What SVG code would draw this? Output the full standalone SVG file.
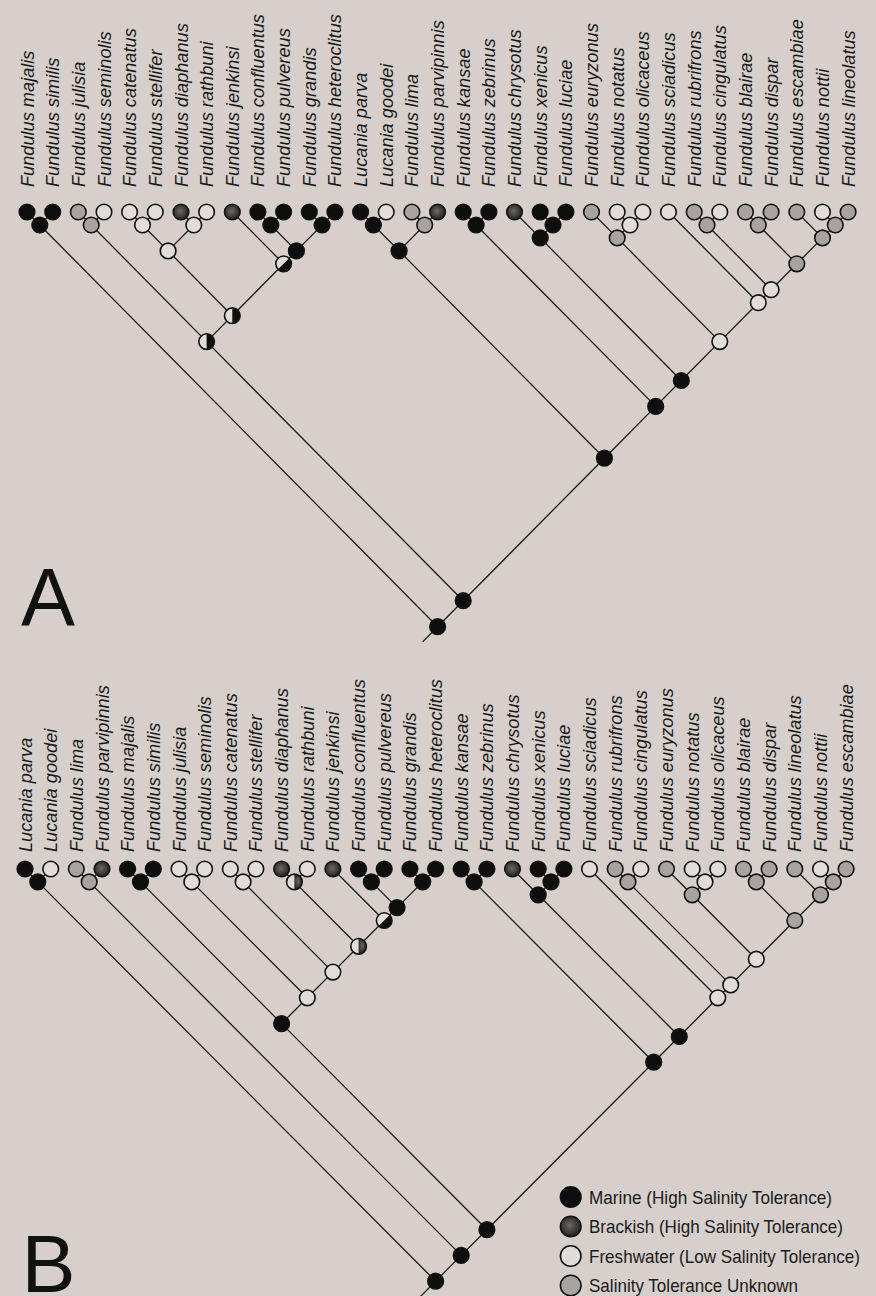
<svg xmlns="http://www.w3.org/2000/svg" width="876" height="1296" viewBox="0 0 876 1296">
<defs>
<radialGradient id="brk" cx="0.45" cy="0.45" r="0.6">
<stop offset="0" stop-color="#6a6866"/>
<stop offset="1" stop-color="#1c1c1c"/>
</radialGradient>
<style>
.ln{stroke:#1a1a1a;stroke-width:1.3;fill:none}
.nd{stroke:#121212;stroke-width:1.6}
.m{fill:#0e0e0e}
.b{fill:url(#brk)}
.f{fill:#e2ddda}
.u{fill:#a8a3a0}
.o{fill:none;stroke:#121212;stroke-width:1.6}
.lab{font-family:"Liberation Sans",Arial,sans-serif;font-style:italic;font-size:18.2px;fill:#1a1a1a}
.big{font-family:"Liberation Sans",Arial,sans-serif;font-size:81px;fill:#111}
.leg{font-family:"Liberation Sans",Arial,sans-serif;font-size:19px;fill:#1a1a1a}
</style>
</defs>
<rect x="0" y="0" width="876" height="1296" fill="#d6cfcb"/>

<g id="connectors">
<!-- Tree A -->
<path class="ln" d="M27,212L39.8,225M52.7,212L39.8,225M78.3,212L91.2,225M104,212L91.2,225M129.6,212L142.5,225M155.3,212L142.5,225M181,212L193.8,225M206.6,212L193.8,225M142.5,225L168.1,250.9M193.8,225L168.1,250.9M257.9,212L270.8,225M283.6,212L270.8,225M309.3,212L322.1,225M334.9,212L322.1,225M270.8,225L296.4,250.9M322.1,225L296.4,250.9M232.3,212L283.6,263.8M296.4,250.9L283.6,263.8M168.1,250.9L232.3,315.7M283.6,263.8L232.3,315.7M91.2,225L206.6,341.6M232.3,315.7L206.6,341.6"/>
<path class="ln" d="M360.6,212L373.4,225M386.2,212L373.4,225M411.9,212L424.7,225M437.6,212L424.7,225M373.4,225L399.1,250.9M424.7,225L399.1,250.9M463.2,212L476.1,225M488.9,212L476.1,225M540.2,212L553,225M565.9,212L553,225M514.5,212L540.2,237.9M553,225L540.2,237.9M617.2,212L630,225M642.8,212L630,225M591.5,212L617.2,237.9M630,225L617.2,237.9M694.2,212L707,225M719.8,212L707,225M745.5,212L758.3,225M771.1,212L758.3,225M822.5,212L835.3,225M848.1,212L835.3,225M796.8,212L822.5,237.9M835.3,225L822.5,237.9M758.3,225L796.8,263.8M822.5,237.9L796.8,263.8M707,225L771.1,289.7M796.8,263.8L771.1,289.7M668.5,212L758.3,302.7M771.1,289.7L758.3,302.7M617.2,237.9L719.8,341.6M758.3,302.7L719.8,341.6M540.2,237.9L681.3,380.5M719.8,341.6L681.3,380.5M476.1,225L655.7,406.4M681.3,380.5L655.7,406.4M399.1,250.9L604.4,458.2M655.7,406.4L604.4,458.2M206.6,341.6L463.2,600.7M604.4,458.2L463.2,600.7M39.8,225L437.6,626.7M463.2,600.7L437.6,626.7M437.6,626.7L422.6,641.9"/>
<!-- Tree B -->
<path class="ln" d="M25,869L37.8,881.9M50.7,869L37.8,881.9M76.3,869L89.2,881.9M102,869L89.2,881.9M127.6,869L140.5,881.9M153.3,869L140.5,881.9M179,869L191.8,881.9M204.6,869L191.8,881.9M230.3,869L243.1,881.9M255.9,869L243.1,881.9M281.6,869L294.4,881.9M307.3,869L294.4,881.9M358.6,869L371.4,881.9M384.2,869L371.4,881.9M409.9,869L422.7,881.9M435.6,869L422.7,881.9M371.4,881.9L397.1,907.6M422.7,881.9L397.1,907.6M332.9,869L384.2,920.5M397.1,907.6L384.2,920.5M294.4,881.9L358.6,946.3M384.2,920.5L358.6,946.3M243.1,881.9L332.9,972.1M358.6,946.3L332.9,972.1M191.8,881.9L307.3,997.8M332.9,972.1L307.3,997.8M140.5,881.9L281.6,1023.6M307.3,997.8L281.6,1023.6"/>
<path class="ln" d="M461.2,869L474.1,881.9M486.9,869L474.1,881.9M538.2,869L551,881.9M563.9,869L551,881.9M512.5,869L538.2,894.8M551,881.9L538.2,894.8M615.2,869L628,881.9M640.8,869L628,881.9M692.2,869L705,881.9M717.8,869L705,881.9M666.5,869L692.2,894.8M705,881.9L692.2,894.8M743.5,869L756.3,881.9M769.1,869L756.3,881.9M820.5,869L833.3,881.9M846.1,869L833.3,881.9M794.8,869L820.5,894.8M833.3,881.9L820.5,894.8M756.3,881.9L794.8,920.5M820.5,894.8L794.8,920.5M692.2,894.8L756.3,959.2M794.8,920.5L756.3,959.2M628,881.9L730.7,984.9M756.3,959.2L730.7,984.9M589.5,869L717.8,997.8M730.7,984.9L717.8,997.8M538.2,894.8L679.3,1036.5M717.8,997.8L679.3,1036.5M474.1,881.9L653.7,1062.2M679.3,1036.5L653.7,1062.2M281.6,1023.6L486.9,1229.7M653.7,1062.2L486.9,1229.7M89.2,881.9L461.2,1255.4M486.9,1229.7L461.2,1255.4M37.8,881.9L435.6,1281.2M461.2,1255.4L435.6,1281.2M435.6,1281.2L417.6,1299.5"/>
</g>

<!-- Tree A tips -->
<g id="A-majalis"><circle class="nd m" cx="27" cy="212" r="7.8"/><text class="lab" transform="translate(33.5,187) rotate(-90)">Fundulus majalis</text></g>
<g id="A-similis"><circle class="nd m" cx="52.7" cy="212" r="7.8"/><text class="lab" transform="translate(59.2,187) rotate(-90)">Fundulus similis</text></g>
<g id="A-julisia"><circle class="nd u" cx="78.3" cy="212" r="7.8"/><text class="lab" transform="translate(84.8,187) rotate(-90)">Fundulus julisia</text></g>
<g id="A-seminolis"><circle class="nd f" cx="104" cy="212" r="7.8"/><text class="lab" transform="translate(110.5,187) rotate(-90)">Fundulus seminolis</text></g>
<g id="A-catenatus"><circle class="nd f" cx="129.6" cy="212" r="7.8"/><text class="lab" transform="translate(136.1,187) rotate(-90)">Fundulus catenatus</text></g>
<g id="A-stellifer"><circle class="nd f" cx="155.3" cy="212" r="7.8"/><text class="lab" transform="translate(161.8,187) rotate(-90)">Fundulus stellifer</text></g>
<g id="A-diaphanus"><circle class="nd b" cx="181" cy="212" r="7.8"/><text class="lab" transform="translate(187.5,187) rotate(-90)">Fundulus diaphanus</text></g>
<g id="A-rathbuni"><circle class="nd f" cx="206.6" cy="212" r="7.8"/><text class="lab" transform="translate(213.1,187) rotate(-90)">Fundulus rathbuni</text></g>
<g id="A-jenkinsi"><circle class="nd b" cx="232.3" cy="212" r="7.8"/><text class="lab" transform="translate(238.8,187) rotate(-90)">Fundulus jenkinsi</text></g>
<g id="A-confluentus"><circle class="nd m" cx="257.9" cy="212" r="7.8"/><text class="lab" transform="translate(264.4,187) rotate(-90)">Fundulus confluentus</text></g>
<g id="A-pulvereus"><circle class="nd m" cx="283.6" cy="212" r="7.8"/><text class="lab" transform="translate(290.1,187) rotate(-90)">Fundulus pulvereus</text></g>
<g id="A-grandis"><circle class="nd m" cx="309.3" cy="212" r="7.8"/><text class="lab" transform="translate(315.8,187) rotate(-90)">Fundulus grandis</text></g>
<g id="A-heteroclitus"><circle class="nd m" cx="334.9" cy="212" r="7.8"/><text class="lab" transform="translate(341.4,187) rotate(-90)">Fundulus heteroclitus</text></g>
<g id="A-parva"><circle class="nd m" cx="360.6" cy="212" r="7.8"/><text class="lab" transform="translate(367.1,187) rotate(-90)">Lucania parva</text></g>
<g id="A-goodei"><circle class="nd f" cx="386.2" cy="212" r="7.8"/><text class="lab" transform="translate(392.7,187) rotate(-90)">Lucania goodei</text></g>
<g id="A-lima"><circle class="nd u" cx="411.9" cy="212" r="7.8"/><text class="lab" transform="translate(418.4,187) rotate(-90)">Fundulus lima</text></g>
<g id="A-parvipinnis"><circle class="nd b" cx="437.6" cy="212" r="7.8"/><text class="lab" transform="translate(444.1,187) rotate(-90)">Fundulus parvipinnis</text></g>
<g id="A-kansae"><circle class="nd m" cx="463.2" cy="212" r="7.8"/><text class="lab" transform="translate(469.7,187) rotate(-90)">Fundulus kansae</text></g>
<g id="A-zebrinus"><circle class="nd m" cx="488.9" cy="212" r="7.8"/><text class="lab" transform="translate(495.4,187) rotate(-90)">Fundulus zebrinus</text></g>
<g id="A-chrysotus"><circle class="nd b" cx="514.5" cy="212" r="7.8"/><text class="lab" transform="translate(521,187) rotate(-90)">Fundulus chrysotus</text></g>
<g id="A-xenicus"><circle class="nd m" cx="540.2" cy="212" r="7.8"/><text class="lab" transform="translate(546.7,187) rotate(-90)">Fundulus xenicus</text></g>
<g id="A-luciae"><circle class="nd m" cx="565.9" cy="212" r="7.8"/><text class="lab" transform="translate(572.4,187) rotate(-90)">Fundulus luciae</text></g>
<g id="A-euryzonus"><circle class="nd u" cx="591.5" cy="212" r="7.8"/><text class="lab" transform="translate(598,187) rotate(-90)">Fundulus euryzonus</text></g>
<g id="A-notatus"><circle class="nd f" cx="617.2" cy="212" r="7.8"/><text class="lab" transform="translate(623.7,187) rotate(-90)">Fundulus notatus</text></g>
<g id="A-olicaceus"><circle class="nd f" cx="642.8" cy="212" r="7.8"/><text class="lab" transform="translate(649.3,187) rotate(-90)">Fundulus olicaceus</text></g>
<g id="A-sciadicus"><circle class="nd f" cx="668.5" cy="212" r="7.8"/><text class="lab" transform="translate(675,187) rotate(-90)">Fundulus sciadicus</text></g>
<g id="A-rubrifrons"><circle class="nd u" cx="694.2" cy="212" r="7.8"/><text class="lab" transform="translate(700.7,187) rotate(-90)">Fundulus rubrifrons</text></g>
<g id="A-cingulatus"><circle class="nd f" cx="719.8" cy="212" r="7.8"/><text class="lab" transform="translate(726.3,187) rotate(-90)">Fundulus cingulatus</text></g>
<g id="A-blairae"><circle class="nd u" cx="745.5" cy="212" r="7.8"/><text class="lab" transform="translate(752,187) rotate(-90)">Fundulus blairae</text></g>
<g id="A-dispar"><circle class="nd u" cx="771.1" cy="212" r="7.8"/><text class="lab" transform="translate(777.6,187) rotate(-90)">Fundulus dispar</text></g>
<g id="A-escambiae"><circle class="nd u" cx="796.8" cy="212" r="7.8"/><text class="lab" transform="translate(803.3,187) rotate(-90)">Fundulus escambiae</text></g>
<g id="A-nottii"><circle class="nd f" cx="822.5" cy="212" r="7.8"/><text class="lab" transform="translate(829,187) rotate(-90)">Fundulus nottii</text></g>
<g id="A-lineolatus"><circle class="nd u" cx="848.1" cy="212" r="7.8"/><text class="lab" transform="translate(854.6,187) rotate(-90)">Fundulus lineolatus</text></g>

<!-- Tree A internal nodes -->
<g id="A-n01"><circle class="nd m" cx="39.8" cy="225" r="7.8"/></g>
<g id="A-n23"><circle class="nd u" cx="91.2" cy="225" r="7.8"/></g>
<g id="A-n45"><circle class="nd f" cx="142.5" cy="225" r="7.8"/></g>
<g id="A-n67"><circle class="nd f" cx="193.8" cy="225" r="7.8"/></g>
<g id="A-n4-7"><circle class="nd f" cx="168.1" cy="250.9" r="7.8"/></g>
<g id="A-n9-10"><circle class="nd m" cx="270.8" cy="225" r="7.8"/></g>
<g id="A-n11-12"><circle class="nd m" cx="322.1" cy="225" r="7.8"/></g>
<g id="A-n9-12"><circle class="nd m" cx="296.4" cy="250.9" r="7.8"/></g>
<g id="A-n8-12" transform="translate(283.6,263.8)"><circle class="f" r="7.8"/><path class="m" d="M5.52,-5.52A7.8,7.8 0 0 1 -5.52,5.52Z"/><circle class="o" r="7.8"/></g>
<g id="A-n4-12" transform="translate(232.3,315.7)"><circle class="f" r="7.8"/><path class="m" d="M0,-7.8A7.8,7.8 0 0 1 0,7.8Z"/><circle class="o" r="7.8"/></g>
<g id="A-n2-12" transform="translate(206.6,341.6)"><circle class="f" r="7.8"/><path class="m" d="M0,-7.8A7.8,7.8 0 0 1 0,7.8Z"/><circle class="o" r="7.8"/></g>
<g id="A-n13-14"><circle class="nd m" cx="373.4" cy="225" r="7.8"/></g>
<g id="A-n15-16"><circle class="nd u" cx="424.7" cy="225" r="7.8"/></g>
<g id="A-n13-16"><circle class="nd m" cx="399.1" cy="250.9" r="7.8"/></g>
<g id="A-n17-18"><circle class="nd m" cx="476.1" cy="225" r="7.8"/></g>
<g id="A-n20-21"><circle class="nd m" cx="553" cy="225" r="7.8"/></g>
<g id="A-n19-21"><circle class="nd m" cx="540.2" cy="237.9" r="7.8"/></g>
<g id="A-n23-24"><circle class="nd f" cx="630" cy="225" r="7.8"/></g>
<g id="A-n22-24"><circle class="nd u" cx="617.2" cy="237.9" r="7.8"/></g>
<g id="A-n26-27"><circle class="nd u" cx="707" cy="225" r="7.8"/></g>
<g id="A-n28-29"><circle class="nd u" cx="758.3" cy="225" r="7.8"/></g>
<g id="A-n31-32"><circle class="nd u" cx="835.3" cy="225" r="7.8"/></g>
<g id="A-n30-32"><circle class="nd u" cx="822.5" cy="237.9" r="7.8"/></g>
<g id="A-n28-32"><circle class="nd u" cx="796.8" cy="263.8" r="7.8"/></g>
<g id="A-n26-32"><circle class="nd f" cx="771.1" cy="289.7" r="7.8"/></g>
<g id="A-n25-32"><circle class="nd f" cx="758.3" cy="302.7" r="7.8"/></g>
<g id="A-n22-32"><circle class="nd f" cx="719.8" cy="341.6" r="7.8"/></g>
<g id="A-n19-32"><circle class="nd m" cx="681.3" cy="380.5" r="7.8"/></g>
<g id="A-n17-32"><circle class="nd m" cx="655.7" cy="406.4" r="7.8"/></g>
<g id="A-n13-32"><circle class="nd m" cx="604.4" cy="458.2" r="7.8"/></g>
<g id="A-n2-32"><circle class="nd m" cx="463.2" cy="600.7" r="7.8"/></g>
<g id="A-root"><circle class="nd m" cx="437.6" cy="626.7" r="7.8"/></g>
<text class="big" x="21" y="625">A</text>

<!-- Tree B tips -->
<g id="B-parva"><circle class="nd m" cx="25" cy="869" r="7.8"/><text class="lab" transform="translate(31.5,852) rotate(-90)">Lucania parva</text></g>
<g id="B-goodei"><circle class="nd f" cx="50.7" cy="869" r="7.8"/><text class="lab" transform="translate(57.2,852) rotate(-90)">Lucania goodei</text></g>
<g id="B-lima"><circle class="nd u" cx="76.3" cy="869" r="7.8"/><text class="lab" transform="translate(82.8,852) rotate(-90)">Fundulus lima</text></g>
<g id="B-parvipinnis"><circle class="nd b" cx="102" cy="869" r="7.8"/><text class="lab" transform="translate(108.5,852) rotate(-90)">Fundulus parvipinnis</text></g>
<g id="B-majalis"><circle class="nd m" cx="127.6" cy="869" r="7.8"/><text class="lab" transform="translate(134.1,852) rotate(-90)">Fundulus majalis</text></g>
<g id="B-similis"><circle class="nd m" cx="153.3" cy="869" r="7.8"/><text class="lab" transform="translate(159.8,852) rotate(-90)">Fundulus similis</text></g>
<g id="B-julisia"><circle class="nd f" cx="179" cy="869" r="7.8"/><text class="lab" transform="translate(185.5,852) rotate(-90)">Fundulus julisia</text></g>
<g id="B-seminolis"><circle class="nd f" cx="204.6" cy="869" r="7.8"/><text class="lab" transform="translate(211.1,852) rotate(-90)">Fundulus seminolis</text></g>
<g id="B-catenatus"><circle class="nd f" cx="230.3" cy="869" r="7.8"/><text class="lab" transform="translate(236.8,852) rotate(-90)">Fundulus catenatus</text></g>
<g id="B-stellifer"><circle class="nd f" cx="255.9" cy="869" r="7.8"/><text class="lab" transform="translate(262.4,852) rotate(-90)">Fundulus stellifer</text></g>
<g id="B-diaphanus"><circle class="nd b" cx="281.6" cy="869" r="7.8"/><text class="lab" transform="translate(288.1,852) rotate(-90)">Fundulus diaphanus</text></g>
<g id="B-rathbuni"><circle class="nd f" cx="307.3" cy="869" r="7.8"/><text class="lab" transform="translate(313.8,852) rotate(-90)">Fundulus rathbuni</text></g>
<g id="B-jenkinsi"><circle class="nd b" cx="332.9" cy="869" r="7.8"/><text class="lab" transform="translate(339.4,852) rotate(-90)">Fundulus jenkinsi</text></g>
<g id="B-confluentus"><circle class="nd m" cx="358.6" cy="869" r="7.8"/><text class="lab" transform="translate(365.1,852) rotate(-90)">Fundulus confluentus</text></g>
<g id="B-pulvereus"><circle class="nd m" cx="384.2" cy="869" r="7.8"/><text class="lab" transform="translate(390.7,852) rotate(-90)">Fundulus pulvereus</text></g>
<g id="B-grandis"><circle class="nd m" cx="409.9" cy="869" r="7.8"/><text class="lab" transform="translate(416.4,852) rotate(-90)">Fundulus grandis</text></g>
<g id="B-heteroclitus"><circle class="nd m" cx="435.6" cy="869" r="7.8"/><text class="lab" transform="translate(442.1,852) rotate(-90)">Fundulus heteroclitus</text></g>
<g id="B-kansae"><circle class="nd m" cx="461.2" cy="869" r="7.8"/><text class="lab" transform="translate(467.7,852) rotate(-90)">Fundulus kansae</text></g>
<g id="B-zebrinus"><circle class="nd m" cx="486.9" cy="869" r="7.8"/><text class="lab" transform="translate(493.4,852) rotate(-90)">Fundulus zebrinus</text></g>
<g id="B-chrysotus"><circle class="nd b" cx="512.5" cy="869" r="7.8"/><text class="lab" transform="translate(519,852) rotate(-90)">Fundulus chrysotus</text></g>
<g id="B-xenicus"><circle class="nd m" cx="538.2" cy="869" r="7.8"/><text class="lab" transform="translate(544.7,852) rotate(-90)">Fundulus xenicus</text></g>
<g id="B-luciae"><circle class="nd m" cx="563.9" cy="869" r="7.8"/><text class="lab" transform="translate(570.4,852) rotate(-90)">Fundulus luciae</text></g>
<g id="B-sciadicus"><circle class="nd f" cx="589.5" cy="869" r="7.8"/><text class="lab" transform="translate(596,852) rotate(-90)">Fundulus sciadicus</text></g>
<g id="B-rubrifrons"><circle class="nd u" cx="615.2" cy="869" r="7.8"/><text class="lab" transform="translate(621.7,852) rotate(-90)">Fundulus rubrifrons</text></g>
<g id="B-cingulatus"><circle class="nd f" cx="640.8" cy="869" r="7.8"/><text class="lab" transform="translate(647.3,852) rotate(-90)">Fundulus cingulatus</text></g>
<g id="B-euryzonus"><circle class="nd u" cx="666.5" cy="869" r="7.8"/><text class="lab" transform="translate(673,852) rotate(-90)">Fundulus euryzonus</text></g>
<g id="B-notatus"><circle class="nd f" cx="692.2" cy="869" r="7.8"/><text class="lab" transform="translate(698.7,852) rotate(-90)">Fundulus notatus</text></g>
<g id="B-olicaceus"><circle class="nd f" cx="717.8" cy="869" r="7.8"/><text class="lab" transform="translate(724.3,852) rotate(-90)">Fundulus olicaceus</text></g>
<g id="B-blairae"><circle class="nd u" cx="743.5" cy="869" r="7.8"/><text class="lab" transform="translate(750,852) rotate(-90)">Fundulus blairae</text></g>
<g id="B-dispar"><circle class="nd u" cx="769.1" cy="869" r="7.8"/><text class="lab" transform="translate(775.6,852) rotate(-90)">Fundulus dispar</text></g>
<g id="B-lineolatus"><circle class="nd u" cx="794.8" cy="869" r="7.8"/><text class="lab" transform="translate(801.3,852) rotate(-90)">Fundulus lineolatus</text></g>
<g id="B-nottii"><circle class="nd f" cx="820.5" cy="869" r="7.8"/><text class="lab" transform="translate(827,852) rotate(-90)">Fundulus nottii</text></g>
<g id="B-escambiae"><circle class="nd u" cx="846.1" cy="869" r="7.8"/><text class="lab" transform="translate(852.6,852) rotate(-90)">Fundulus escambiae</text></g>

<!-- Tree B internal nodes -->
<g id="B-n01"><circle class="nd m" cx="37.8" cy="881.9" r="7.8"/></g>
<g id="B-n23"><circle class="nd u" cx="89.2" cy="881.9" r="7.8"/></g>
<g id="B-n45"><circle class="nd m" cx="140.5" cy="881.9" r="7.8"/></g>
<g id="B-n67"><circle class="nd f" cx="191.8" cy="881.9" r="7.8"/></g>
<g id="B-n89"><circle class="nd f" cx="243.1" cy="881.9" r="7.8"/></g>
<g id="B-n10-11" transform="translate(294.4,881.9)"><circle class="f" r="7.8"/><path class="b" d="M0,-7.8A7.8,7.8 0 0 1 0,7.8Z"/><circle class="o" r="7.8"/></g>
<g id="B-n13-14"><circle class="nd m" cx="371.4" cy="881.9" r="7.8"/></g>
<g id="B-n15-16"><circle class="nd m" cx="422.7" cy="881.9" r="7.8"/></g>
<g id="B-n13-16"><circle class="nd m" cx="397.1" cy="907.6" r="7.8"/></g>
<g id="B-n12-16" transform="translate(384.2,920.5)"><circle class="f" r="7.8"/><path class="m" d="M5.52,-5.52A7.8,7.8 0 0 1 -5.52,5.52Z"/><circle class="o" r="7.8"/></g>
<g id="B-n10-16" transform="translate(358.6,946.3)"><circle class="f" r="7.8"/><path class="b" d="M0,-7.8A7.8,7.8 0 0 1 0,7.8Z"/><circle class="o" r="7.8"/></g>
<g id="B-n8-16"><circle class="nd f" cx="332.9" cy="972.1" r="7.8"/></g>
<g id="B-n6-16"><circle class="nd f" cx="307.3" cy="997.8" r="7.8"/></g>
<g id="B-n4-16"><circle class="nd m" cx="281.6" cy="1023.6" r="7.8"/></g>
<g id="B-n17-18"><circle class="nd m" cx="474.1" cy="881.9" r="7.8"/></g>
<g id="B-n20-21"><circle class="nd m" cx="551" cy="881.9" r="7.8"/></g>
<g id="B-n19-21"><circle class="nd m" cx="538.2" cy="894.8" r="7.8"/></g>
<g id="B-n23-24"><circle class="nd u" cx="628" cy="881.9" r="7.8"/></g>
<g id="B-n26-27"><circle class="nd f" cx="705" cy="881.9" r="7.8"/></g>
<g id="B-n25-27"><circle class="nd u" cx="692.2" cy="894.8" r="7.8"/></g>
<g id="B-n28-29"><circle class="nd u" cx="756.3" cy="881.9" r="7.8"/></g>
<g id="B-n31-32"><circle class="nd u" cx="833.3" cy="881.9" r="7.8"/></g>
<g id="B-n30-32"><circle class="nd u" cx="820.5" cy="894.8" r="7.8"/></g>
<g id="B-n28-32"><circle class="nd u" cx="794.8" cy="920.5" r="7.8"/></g>
<g id="B-n25-32"><circle class="nd f" cx="756.3" cy="959.2" r="7.8"/></g>
<g id="B-n23-32"><circle class="nd f" cx="730.7" cy="984.9" r="7.8"/></g>
<g id="B-n22-32"><circle class="nd f" cx="717.8" cy="997.8" r="7.8"/></g>
<g id="B-n19-32"><circle class="nd m" cx="679.3" cy="1036.5" r="7.8"/></g>
<g id="B-n17-32"><circle class="nd m" cx="653.7" cy="1062.2" r="7.8"/></g>
<g id="B-n4-32"><circle class="nd m" cx="486.9" cy="1229.7" r="7.8"/></g>
<g id="B-n2-32"><circle class="nd m" cx="461.2" cy="1255.4" r="7.8"/></g>
<g id="B-root"><circle class="nd m" cx="435.6" cy="1281.2" r="7.8"/></g>
<text class="big" x="21.6" y="1292" font-size="80">B</text>

<!-- Legend -->
<g id="legend">
<g id="leg-marine"><circle class="nd m" cx="570.7" cy="1197" r="10.3"/><text class="leg" x="589" y="1203.5" textLength="243" lengthAdjust="spacingAndGlyphs">Marine (High Salinity Tolerance)</text></g>
<g id="leg-brackish"><circle class="nd b" cx="570.7" cy="1226.5" r="10.3"/><text class="leg" x="589" y="1233" textLength="254" lengthAdjust="spacingAndGlyphs">Brackish (High Salinity Tolerance)</text></g>
<g id="leg-fresh"><circle class="nd f" cx="570.7" cy="1256" r="10.3"/><text class="leg" x="589" y="1262.5" textLength="271" lengthAdjust="spacingAndGlyphs">Freshwater (Low Salinity Tolerance)</text></g>
<g id="leg-unknown"><circle class="nd u" cx="570.7" cy="1285.5" r="10.3"/><text class="leg" x="589" y="1292" textLength="209" lengthAdjust="spacingAndGlyphs">Salinity Tolerance Unknown</text></g>
</g>
</svg>
